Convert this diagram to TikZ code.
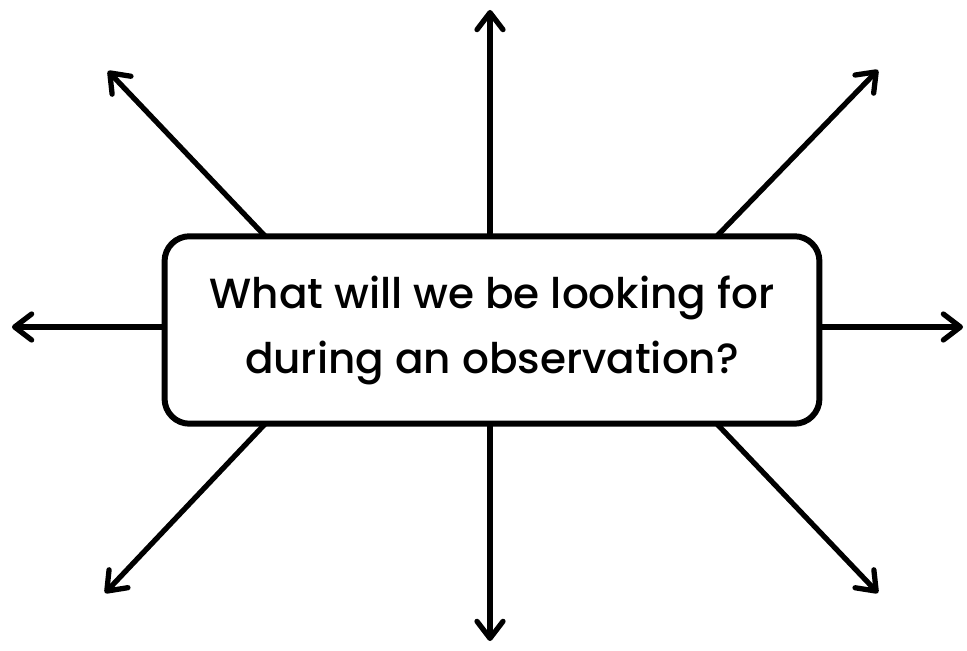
\documentclass[tikz,border=0pt]{standalone}
\usepackage{fontspec}
\setmainfont{Poppins}[UprightFont=* Medium]
\usetikzlibrary{arrows.meta,positioning,calc}

\begin{document}
\begin{tikzpicture}[
  x=0.02cm, y=-0.02cm,
  qbox/.style={draw,line width=3.4pt,rounded corners=0.5cm,minimum width=13.1cm,minimum height=3.75cm,align=center,font=\fontsize{24}{37}\selectfont},
  ray/.style={-{Straight Barb[length=3.4mm,width=5.2mm,round]},line width=3pt,line cap=round}
]
  \useasboundingbox (0,0) rectangle (967,651);
  % Central question
  \node[qbox] (q) at (492,330) {What will we be looking for\\during an observation?};
  % Ray end points
  \coordinate (eN) at (490,10);
  \coordinate (eS) at (490,641);
  \coordinate (eW) at (12,327);
  \coordinate (eE) at (963,327);
  \coordinate (eNW) at (108,71);
  \coordinate (eNE) at (878,70);
  \coordinate (eSW) at (105,593);
  \coordinate (eSE) at (878,593);
  % Ray start points on the box
  \coordinate (sNW) at (265,236);
  \coordinate (sNE) at (717,236);
  \coordinate (sSW) at (265,424);
  \coordinate (sSE) at (717,424);
  % Rays
  \draw[ray] (q.north -| eN) -- (eN);
  \draw[ray] (q.south -| eS) -- (eS);
  \draw[ray] (q.west |- eW) -- (eW);
  \draw[ray] (q.east |- eE) -- (eE);
  \draw[ray] (sNW) -- (eNW);
  \draw[ray] (sNE) -- (eNE);
  \draw[ray] (sSW) -- (eSW);
  \draw[ray] (sSE) -- (eSE);
\end{tikzpicture}
\end{document}
